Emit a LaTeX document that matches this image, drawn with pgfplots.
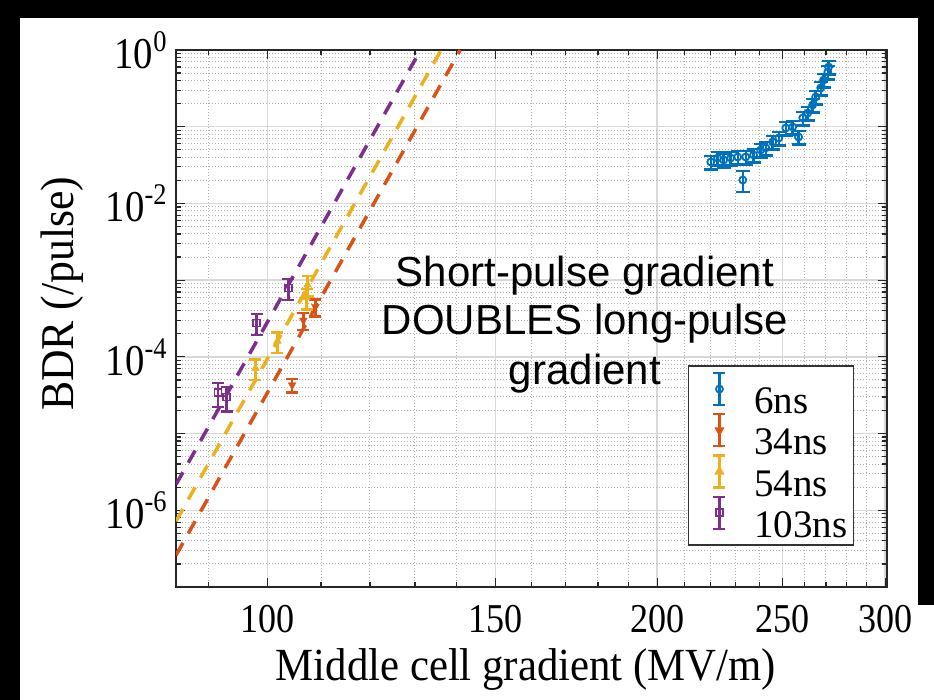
\documentclass[border=0pt]{standalone}
\usepackage{fontspec}
\setmainfont{Liberation Serif}
\newfontfamily\tickfont{Liberation Serif}[FakeStretch=0.88]
\newfontfamily\labfont{Liberation Serif}[FakeStretch=0.93]
\newfontfamily\annfont{Liberation Sans}
\usepackage{pgfplots}
\usepackage{pgfplotstable}
\pgfplotsset{compat=1.18}
\definecolor{c1}{HTML}{0072BD}
\definecolor{c2}{HTML}{D95319}
\definecolor{c3}{HTML}{EDB120}
\definecolor{c4}{HTML}{7E2F8E}
\newcommand{\tp}[1]{10\raisebox{17pt}{\fontsize{30}{30}\selectfont\tickfont #1}}

\pgfplotstableread{
x y e
220.0 0.0347 0.2
222.7 0.0391 0.2
225.1 0.0368 0.2
227.9 0.0391 0.2
230.8 0.0403 0.2
232.9 0.0202 0.3
234.1 0.0403 0.2
237.4 0.0428 0.2
240.4 0.0497 0.2
242.6 0.0528 0.2
245.6 0.0632 0.2
248.3 0.0713 0.2
251.4 0.0962 0.2
254.5 0.0991 0.2
257.2 0.0734 0.2
259.1 0.130 0.2
261.4 0.151 0.2
263.7 0.192 0.2
265.1 0.244 0.2
267.5 0.320 0.2
268.9 0.406 0.2
270.9 0.517 0.2
271.3 0.600 0.2
}\sixns
\pgfplotstableread{
x y e
104.5 4.3e-5 0.2
106.6 3.0e-4 0.25
108.9 4.5e-4 0.25
}\thirtyfour
\pgfplotstableread{
x y e
97.9 7.1e-5 0.3
101.8 1.6e-4 0.3
107.2 5.9e-4 0.3
107.4 8.7e-4 0.3
}\fiftyfour
\pgfplotstableread{
x y e
91.6 3.4e-5 0.35
93.0 3.0e-5 0.35
98.1 2.76e-4 0.3
103.8 7.9e-4 0.3
}\hundredthree

\begin{document}
\begin{tikzpicture}
\useasboundingbox (0,0) rectangle (934pt,700pt);
\fill[black] (0,0) rectangle (934pt,700pt);
\fill[white] (20pt,0) rectangle (918pt,682pt);
\fill[white] (918pt,0) rectangle (934pt,95pt);
\begin{axis}[
  at={(176pt,113pt)}, anchor=south west,
  scale only axis, width=711pt, height=537pt,
  xmode=log, ymode=log,
  xmin=85, xmax=301, ymin=1e-7, ymax=1,
  xtick={100,150,200,250,300},
  xticklabels={100,150,200,250,300},
  minor xtick={90,110,120,130,140,160,170,180,190,210,220,230,240,260,270,280,290},
  ytick={1e-7,1e-6,1e-5,1e-4,1e-3,1e-2,1e-1,1},
  yticklabels={{},\tp{-6},{},\tp{-4},{},\tp{-2},{},\tp{0}},
  minor ytick={2e-7,3e-7,4e-7,5e-7,6e-7,7e-7,8e-7,9e-7,
    2e-6,3e-6,4e-6,5e-6,6e-6,7e-6,8e-6,9e-6,
    2e-5,3e-5,4e-5,5e-5,6e-5,7e-5,8e-5,9e-5,
    2e-4,3e-4,4e-4,5e-4,6e-4,7e-4,8e-4,9e-4,
    2e-3,3e-3,4e-3,5e-3,6e-3,7e-3,8e-3,9e-3,
    2e-2,3e-2,4e-2,5e-2,6e-2,7e-2,8e-2,9e-2,
    2e-1,3e-1,4e-1,5e-1,6e-1,7e-1,8e-1,9e-1},
  grid=both,
  major grid style={line width=1.5pt, color=black!15},
  minor grid style={line width=1pt, dotted, color=black!30},
  axis line style={line width=1.6pt, color=black!85},
  tick style={line width=1.2pt, color=black!85},
  tick align=inside,
  major tick length=9pt, minor tick length=5pt,
  xticklabel style={font=\fontsize{41}{41}\selectfont\tickfont, yshift=-15pt},
  yticklabel style={font=\fontsize{44}{44}\selectfont\tickfont, xshift=-6pt},
  xlabel={Middle cell gradient (MV/m)},
  ylabel={BDR (/pulse)},
  every axis x label/.style={at={(axis description cs:0.492,-0.153)}, anchor=center, font=\fontsize{46}{46}\selectfont\labfont},
  every axis y label/.style={at={(axis description cs:-0.16,0.546)}, anchor=center, rotate=90, font=\fontsize{47}{47}\selectfont\labfont},
  legend image code/.code={
    \path (-24pt,12pt) (8pt,12pt);
    \draw[#1, line width=2.2pt, mark=none] (0pt,-3.5pt) -- (0pt,28.5pt);
    \draw[#1, line width=2.2pt, mark=none] (-6pt,-3.5pt) -- (6pt,-3.5pt) (-6pt,28.5pt) -- (6pt,28.5pt);
    \draw[#1, only marks] plot coordinates {(0pt,12.5pt)};
  },
  legend cell align=left,
  legend style={at={(axis description cs:0.720,0.413)}, anchor=north west,
    draw=black!80, line width=1.5pt, fill=white,
    font=\fontsize{39}{39}\selectfont,
    inner xsep=6pt, inner ysep=6pt, row sep=-2pt, column sep=26pt,
    nodes={inner sep=0pt}},
]
% power-law fit lines
\addplot[forget plot, c4, line width=3.5pt, dash pattern=on 14pt off 11pt] coordinates {(85,2.17e-6) (131.3,1)};
\addplot[forget plot, c3, line width=3.5pt, dash pattern=on 14pt off 11pt] coordinates {(85,7.2e-7) (136.2,1)};
\addplot[forget plot, c2, line width=3.5pt, dash pattern=on 14pt off 11pt] coordinates {(85,2.6e-7) (140.9,1)};

\addplot[only marks, color=c1, mark=o, mark size=3.5pt, mark options={line width=1.8pt},
  error bars/.cd, y dir=both, y explicit relative,
  error bar style={line width=2.4pt}, error mark options={rotate=90, line width=2.4pt, mark size=7pt}]
  table[x=x, y=y, y error=e] {\sixns};
\addlegendentry{6ns}
\addplot[only marks, color=c2, mark=triangle*, mark size=4.5pt, mark options={rotate=180},
  error bars/.cd, y dir=both, y explicit relative,
  error bar style={line width=2.4pt}, error mark options={rotate=90, line width=2.4pt, mark size=6pt}]
  table[x=x, y=y, y error=e] {\thirtyfour};
\addlegendentry{34ns}
\addplot[only marks, color=c3, mark=triangle*, mark size=4.5pt,
  error bars/.cd, y dir=both, y explicit relative,
  error bar style={line width=2.4pt}, error mark options={rotate=90, line width=2.4pt, mark size=6pt}]
  table[x=x, y=y, y error=e] {\fiftyfour};
\addlegendentry{54ns}
\addplot[only marks, color=c4, mark=square, mark size=3.5pt, mark options={line width=1.8pt},
  error bars/.cd, y dir=both, y explicit relative,
  error bar style={line width=2.4pt}, error mark options={rotate=90, line width=2.4pt, mark size=6pt}]
  table[x=x, y=y, y error=e] {\hundredthree};
\addlegendentry{103ns}

\node[font=\fontsize{42}{48}\selectfont\annfont, anchor=base] at (axis description cs:0.575,0.5587) {Short-pulse gradient};
\node[font=\fontsize{42}{48}\selectfont\annfont, anchor=base] at (axis description cs:0.575,0.4693) {DOUBLES long-pulse};
\node[font=\fontsize{42}{48}\selectfont\annfont, anchor=base] at (axis description cs:0.575,0.378) {gradient};
\end{axis}
\end{tikzpicture}
\end{document}
